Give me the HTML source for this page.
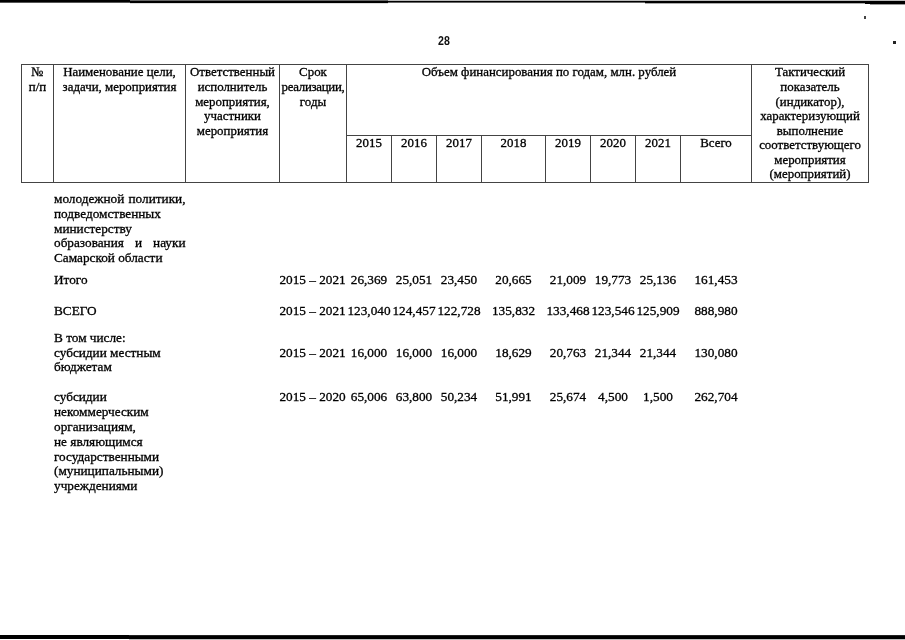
<!DOCTYPE html>
<html><head><meta charset="utf-8"><style>
html,body{margin:0;padding:0;background:#fff;width:905px;height:640px;overflow:hidden}
body{position:relative;filter:grayscale(1)}
body>div{position:absolute}
.t,.h{font-family:"Liberation Serif",serif;line-height:15px;white-space:nowrap;color:#000;-webkit-text-stroke:0.3px #000}
.t{font-size:13.25px}
.h{font-size:12.9px}
.c{text-align:center}
.j{text-align:justify;text-align-last:justify;white-space:normal}
.pn{font-family:"Liberation Sans",sans-serif;font-weight:bold;font-size:12.5px;line-height:15px;color:#111;transform:scaleX(0.85);transform-origin:0 0}
</style></head><body>
<div style="left:21px;top:64px;width:848px;height:1px;background:#444"></div>
<div style="left:21px;top:182px;width:848px;height:1px;background:#444"></div>
<div style="left:346px;top:135px;width:405px;height:1px;background:#444"></div>
<div style="left:21px;top:64px;width:1px;height:119px;background:#444"></div>
<div style="left:53px;top:64px;width:1px;height:119px;background:#444"></div>
<div style="left:185px;top:64px;width:1px;height:119px;background:#444"></div>
<div style="left:279px;top:64px;width:1px;height:119px;background:#444"></div>
<div style="left:346px;top:64px;width:1px;height:119px;background:#444"></div>
<div style="left:391px;top:135px;width:1px;height:48px;background:#444"></div>
<div style="left:436px;top:135px;width:1px;height:48px;background:#444"></div>
<div style="left:481px;top:135px;width:1px;height:48px;background:#444"></div>
<div style="left:545px;top:135px;width:1px;height:48px;background:#444"></div>
<div style="left:590px;top:135px;width:1px;height:48px;background:#444"></div>
<div style="left:635px;top:135px;width:1px;height:48px;background:#444"></div>
<div style="left:680px;top:135px;width:1px;height:48px;background:#444"></div>
<div style="left:751px;top:64px;width:1px;height:119px;background:#444"></div>
<div style="left:868px;top:64px;width:1px;height:119px;background:#444"></div>
<div class="h c" style="left:21px;width:33px;top:65px">№</div>
<div class="h c" style="left:21px;width:33px;top:80px">п/п</div>
<div class="h c" style="left:53px;width:133px;top:65px">Наименование цели,</div>
<div class="h c" style="left:53px;width:133px;top:80px">задачи, мероприятия</div>
<div class="h c" style="left:185px;width:95px;top:65px">Ответственный</div>
<div class="h c" style="left:185px;width:95px;top:80px">исполнитель</div>
<div class="h c" style="left:185px;width:95px;top:95px">мероприятия,</div>
<div class="h c" style="left:185px;width:95px;top:109px">участники</div>
<div class="h c" style="left:185px;width:95px;top:124px">мероприятия</div>
<div class="h c" style="left:279px;width:68px;top:65px">Срок</div>
<div class="h c" style="left:279px;width:68px;top:80px"><span style="letter-spacing:-0.3px">реализации,</span></div>
<div class="h c" style="left:279px;width:68px;top:95px">годы</div>
<div class="h c" style="left:346px;width:406px;top:65px">Объем финансирования по годам, млн. рублей</div>
<div class="h c" style="left:751px;width:118px;top:65px">Тактический</div>
<div class="h c" style="left:751px;width:118px;top:80px">показатель</div>
<div class="h c" style="left:751px;width:118px;top:95px">(индикатор),</div>
<div class="h c" style="left:751px;width:118px;top:109px">характеризующий</div>
<div class="h c" style="left:751px;width:118px;top:124px">выполнение</div>
<div class="h c" style="left:751px;width:118px;top:138px">соответствующего</div>
<div class="h c" style="left:751px;width:118px;top:153px">мероприятия</div>
<div class="h c" style="left:751px;width:118px;top:167px">(мероприятий)</div>
<div class="h c" style="left:346px;width:46px;top:136px">2015</div>
<div class="h c" style="left:391px;width:46px;top:136px">2016</div>
<div class="h c" style="left:436px;width:46px;top:136px">2017</div>
<div class="h c" style="left:481px;width:65px;top:136px">2018</div>
<div class="h c" style="left:545px;width:46px;top:136px">2019</div>
<div class="h c" style="left:590px;width:46px;top:136px">2020</div>
<div class="h c" style="left:635px;width:46px;top:136px">2021</div>
<div class="h c" style="left:680px;width:72px;top:136px">Всего</div>
<div class="t j" style="left:54px;top:191px;width:131.5px;">молодежной политики,</div>
<div class="t" style="left:54px;top:206px;">подведомственных</div>
<div class="t" style="left:54px;top:221px;">министерству</div>
<div class="t j" style="left:54px;top:235px;width:131.5px;">образования и науки</div>
<div class="t" style="left:54px;top:250px;">Самарской области</div>
<div class="t" style="left:54px;top:272px;">Итого</div>
<div class="t c" style="left:279px;width:67px;top:272px">2015 – 2021</div>
<div class="t c" style="left:346px;width:46px;top:272px">26,369</div>
<div class="t c" style="left:391px;width:46px;top:272px">25,051</div>
<div class="t c" style="left:436px;width:46px;top:272px">23,450</div>
<div class="t c" style="left:481px;width:65px;top:272px">20,665</div>
<div class="t c" style="left:545px;width:46px;top:272px">21,009</div>
<div class="t c" style="left:590px;width:46px;top:272px">19,773</div>
<div class="t c" style="left:635px;width:46px;top:272px">25,136</div>
<div class="t c" style="left:680px;width:72px;top:272px">161,453</div>
<div class="t" style="left:54px;top:303px;">ВСЕГО</div>
<div class="t c" style="left:279px;width:67px;top:303px">2015 – 2021</div>
<div class="t c" style="left:346px;width:46px;top:303px">123,040</div>
<div class="t c" style="left:391px;width:46px;top:303px">124,457</div>
<div class="t c" style="left:436px;width:46px;top:303px">122,728</div>
<div class="t c" style="left:481px;width:65px;top:303px">135,832</div>
<div class="t c" style="left:545px;width:46px;top:303px">133,468</div>
<div class="t c" style="left:590px;width:46px;top:303px">123,546</div>
<div class="t c" style="left:635px;width:46px;top:303px">125,909</div>
<div class="t c" style="left:680px;width:72px;top:303px">888,980</div>
<div class="t" style="left:54px;top:330px;">В том числе:</div>
<div class="t" style="left:54px;top:345px;">субсидии местным</div>
<div class="t" style="left:54px;top:359px;">бюджетам</div>
<div class="t c" style="left:279px;width:67px;top:345px">2015 – 2021</div>
<div class="t c" style="left:346px;width:46px;top:345px">16,000</div>
<div class="t c" style="left:391px;width:46px;top:345px">16,000</div>
<div class="t c" style="left:436px;width:46px;top:345px">16,000</div>
<div class="t c" style="left:481px;width:65px;top:345px">18,629</div>
<div class="t c" style="left:545px;width:46px;top:345px">20,763</div>
<div class="t c" style="left:590px;width:46px;top:345px">21,344</div>
<div class="t c" style="left:635px;width:46px;top:345px">21,344</div>
<div class="t c" style="left:680px;width:72px;top:345px">130,080</div>
<div class="t" style="left:54px;top:389px;">субсидии</div>
<div class="t" style="left:54px;top:404px;">некоммерческим</div>
<div class="t" style="left:54px;top:419px;">организациям,</div>
<div class="t" style="left:54px;top:434px;">не являющимся</div>
<div class="t" style="left:54px;top:449px;">государственными</div>
<div class="t" style="left:54px;top:463px;">(муниципальными)</div>
<div class="t" style="left:54px;top:478px;">учреждениями</div>
<div class="t c" style="left:279px;width:67px;top:389px">2015 – 2020</div>
<div class="t c" style="left:346px;width:46px;top:389px">65,006</div>
<div class="t c" style="left:391px;width:46px;top:389px">63,800</div>
<div class="t c" style="left:436px;width:46px;top:389px">50,234</div>
<div class="t c" style="left:481px;width:65px;top:389px">51,991</div>
<div class="t c" style="left:545px;width:46px;top:389px">25,674</div>
<div class="t c" style="left:590px;width:46px;top:389px">4,500</div>
<div class="t c" style="left:635px;width:46px;top:389px">1,500</div>
<div class="t c" style="left:680px;width:72px;top:389px">262,704</div>
<div class="pn" style="left:438px;top:34px;">28</div>
<div style="left:0px;top:0px;width:130px;height:2px;background:#000"></div>
<div style="left:0px;top:2px;width:130px;height:1px;background:#555"></div>
<div style="left:130px;top:0px;width:258px;height:1px;background:#666"></div>
<div style="left:130px;top:1px;width:258px;height:2px;background:#000"></div>
<div style="left:130px;top:3px;width:258px;height:1px;background:#ddd"></div>
<div style="left:388px;top:0px;width:257px;height:1px;background:#bbb"></div>
<div style="left:388px;top:1px;width:257px;height:1px;background:#000"></div>
<div style="left:388px;top:2px;width:257px;height:1px;background:#666"></div>
<div style="left:645px;top:0px;width:260px;height:1px;background:#bbb"></div>
<div style="left:645px;top:1px;width:260px;height:2px;background:#000"></div>
<div style="left:645px;top:3px;width:220px;height:1px;background:#aaa"></div>
<div style="left:865px;top:3px;width:40px;height:1px;background:#000"></div>
<div style="left:870px;top:4px;width:35px;height:1px;background:#999"></div>
<div style="left:0px;top:635px;width:905px;height:4px;background:#000"></div>
<div style="left:129px;top:635px;width:776px;height:1px;background:#222"></div>
<div style="left:129px;top:639px;width:776px;height:1px;background:#bbb"></div>
<div style="left:864px;top:16px;width:2px;height:3px;background:#444"></div>
<div style="left:893px;top:41px;width:3px;height:3px;background:#222"></div>
</body></html>
